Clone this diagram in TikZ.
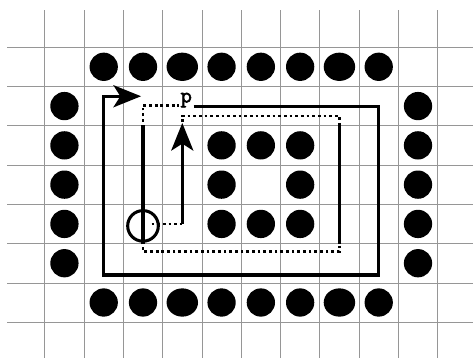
\documentclass[tikz,border=0pt]{standalone}
\usepackage{fontspec}
\newfontfamily\codefont{Latin Modern Mono}[FakeBold=2.5]
\usetikzlibrary{arrows.meta}
\definecolor{mygridgray}{RGB}{150,150,150}

\tikzset{
  solidpath/.style={line width=2.2pt},
  dotpath/.style={line width=2pt,dash pattern=on 2pt off 2.1pt},
  bigtip/.style={-{Stealth[length=20pt,width=16pt,inset=5pt]}}
}

\begin{document}
\begin{tikzpicture}[x=1cm,y=1cm]
\def\r{0.36}
\def\rw{0.40}
  \useasboundingbox (-1.14,-0.91) rectangle (10.9,8.2);
  \draw[mygridgray,line width=0.5pt] (-0.96,-1) grid (11,7.95);
  \foreach \x/\w in {1.5/\r,2.5/\r,3.5/\rw,4.5/\r,5.5/\r,6.5/\r,7.5/\rw,8.5/\r}
    {
     \fill (\x,6.5) ellipse ({\w} and \r);
     \fill (\x,0.5) ellipse ({\w} and \r);
    }
  \foreach \y in {1.5,2.5,...,5.5}
    {
     \fill (0.5,\y) circle (\r);
     \fill (9.5,\y) circle (\r);
    }
  \foreach \x/\y in {4.5/4.5,5.5/4.5,6.5/4.5,4.5/3.5,6.5/3.5,4.5/2.5,5.5/2.5,6.5/2.5}
    {
     \fill (\x,\y) circle (\r);
    }
  \node[font=\codefont\fontsize{16}{16}\selectfont,inner xsep=1pt,inner ysep=0pt,anchor=south] (p) at (3.6,5.46) {p};
  \coordinate (start) at (2.5,2.45);
  \draw[solidpath] (start) circle (0.39);
  \draw[dotpath]  (2.72,2.5) -- (3.5,2.5);
  \draw[solidpath,bigtip] (3.5,2.5) -- (3.5,5.07);
  \draw[dotpath]  (3.5,5.1) -- (3.5,5.25) -- (7.5,5.25) -- (7.5,5.1);
  \draw[solidpath] (7.5,5.07) -- (7.5,2.0);
  \draw[dotpath]  (7.5,1.95) -- (7.5,1.8) -- (2.5,1.8) -- (2.5,1.95);
  \draw[solidpath] (2.5,1.98) -- (2.5,5.03);
  \draw[dotpath]  (2.5,5.1) -- (2.5,5.52) -- (p.south west |- 0,5.52);
  \draw[solidpath,bigtip] (p.south east |- 0,5.5) -- (8.5,5.5) -- (8.5,1.2) -- (1.5,1.2) -- (1.5,5.75) -- (2.45,5.75);
\end{tikzpicture}
\end{document}
